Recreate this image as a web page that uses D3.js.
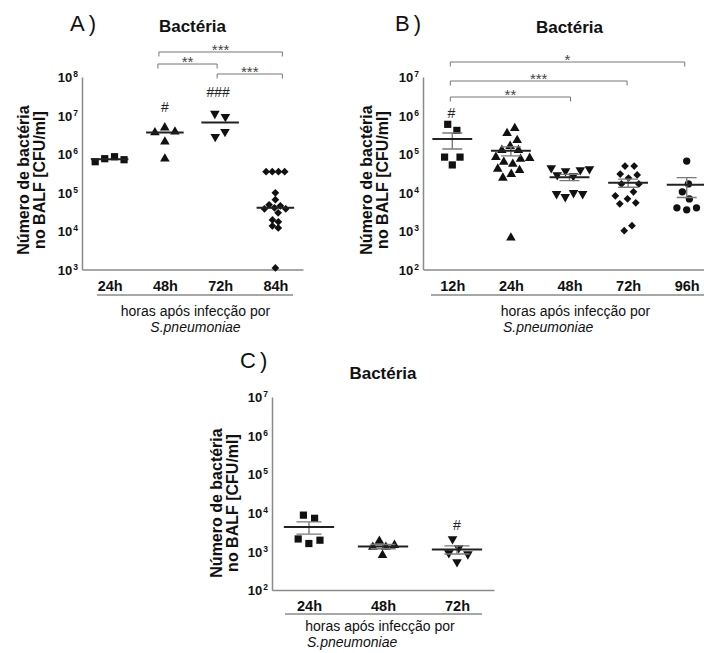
<!DOCTYPE html>
<html>
<head>
<meta charset="utf-8">
<script src="https://cdn.jsdelivr.net/npm/d3@7"></script>
<style>
  body { margin: 0; background: #fff; }
  text { font-family: "Liberation Sans", Arial, sans-serif; }
</style>
</head>
<body>
<svg id="chart" width="704" height="653"></svg>
<script>
// ---- data (CFU/ml per animal) ----
const hoursA = ["24h", "48h", "72h", "84h"];
const hoursB = ["12h", "24h", "48h", "72h", "96h"];
const hoursC = ["24h", "48h", "72h"];

const cfuA = [
  [7.55e5, 6.3e5, 8.5e5, 7.1e5],
  [3.6e6, 4.84e6, 3.8e6, 2.09e6, 7.5e5],
  [1.12e7, 9.3e6, 2.8e6, 3.8e6],
  [3.47e5, 3.47e5, 3.47e5, 3.47e5, 9.8e4, 6.5e4, 4.8e4, 3.76e4, 4.5e4, 2.96e4,
   4.0e4, 3.76e4, 1.94e4, 1.35e4, 1.2e4, 1.73e4, 1.1e3]
];
const cfuB = [
  [5.9e5, 4.1e5, 8.3e4, 8.3e4, 5.2e4],
  [4.67e5, 3.46e5, 2.28e5, 1.26e5, 1.26e5, 1.6e5, 7.4e4, 8.3e4, 7.8e4, 5.5e4,
   6.2e4, 4.1e4, 3.0e4, 3.8e4, 2.4e4, 6.7e2],
  [3.84e4, 4.32e4, 4.07e4, 3.61e4, 2.85e4, 2.69e4, 9.2e3, 7.7e3, 9.8e3, 9.2e3],
  [4.86e4, 4.86e4, 2.85e4, 3.02e4, 2.38e4, 1.67e4, 1.67e4, 1.04e4, 8.2e3, 5.4e3,
   5.07e3, 6.84e3, 1.02e3, 1.37e3],
  [6.56e4, 1.67e4, 1.04e4, 6.8e3, 4.0e3, 3.55e3, 4.0e3]
];
const cfuC = [
  [8.7e3, 7.2e3, 2.1e3, 1.6e3, 1.95e3],
  [1.3e3, 1.85e3, 1.45e3, 1.3e3, 8.0e2],
  [2.1e3, 1.22e3, 9.1e2, 8.5e2, 5.3e2]
];

const shapesA = ["square", "triangle", "triangleDown", "diamond"];
const shapesB = ["square", "triangle", "triangleDown", "diamond", "circle"];
const shapesC = ["square", "triangle", "triangleDown"];

const signifA = [["48h", "84h", "***"], ["48h", "72h", "**"], ["72h", "84h", "***"]];
const signifB = [["12h", "96h", "*"], ["12h", "72h", "***"], ["12h", "48h", "**"]];
const hashA = [["48h", "#"], ["72h", "###"]];
const hashB = [["12h", "#"]];
const hashC = [["72h", "#"]];

// ---- layout ----
const axisGrey = "#8a8a8a";
const svg = d3.select("#chart");
svg.append("rect").attr("width", 704).attr("height", 653).attr("fill", "#fff");

const panels = [
  { tag: "A)", tagX: 70, tagY: 31, cats: hoursA, cfu: cfuA, shapes: shapesA, center: "median",
    left: 82, right: 303, top: 77, bottom: 269.5, exps: [3, 8], titleY: 32,
    labelX: 29, labelY: 180, spread: [5, 5.5, 5.5, 3.1],
    brackets: signifA, bracketPos: [{y: 52, d0: -6, d1: 7}, {y: 64, d0: -7, d1: -3}, {y: 74, d0: -3, d1: 7}],
    hashes: hashA, hashPos: [{y: 112, dx: 0}, {y: 97, dx: -2}],
    rule: [97, 293, 295], horasX: 195.5, horasY: 316, spX: 195.5, spAnchor: "middle" },
  { tag: "B)", tagX: 395, tagY: 31, cats: hoursB, cfu: cfuB, shapes: shapesB, center: "mean",
    left: 423, right: 716, top: 77, bottom: 269.5, exps: [2, 7], titleY: 33,
    labelX: 372, labelY: 180, spread: [5.5, 4.6, 4.6, 4.6, 5],
    brackets: signifB, bracketPos: [{y: 62, d0: -2, d1: -2}, {y: 81, d0: -2, d1: -1}, {y: 97, d0: -2, d1: 1}],
    hashes: hashB, hashPos: [{y: 118, dx: -1}],
    rule: [431, 716, 295], horasX: 575.5, horasY: 316, spX: 503, spAnchor: "start" },
  { tag: "C)", tagX: 240, tagY: 368, cats: hoursC, cfu: cfuC, shapes: shapesC, center: "mean",
    left: 272, right: 494, top: 397, bottom: 590, exps: [2, 7], titleY: 379,
    labelX: 222, labelY: 503, spread: [5.8, 4.4, 5.5],
    brackets: [], bracketPos: [],
    hashes: hashC, hashPos: [{y: 530, dx: 0}],
    rule: [285, 482, 614], horasX: 380, horasY: 631, spX: 307, spAnchor: "start" }
];

const symbolOf = {
  square: { type: d3.symbolSquare, size: 52, rot: 0 },
  triangle: { type: d3.symbolTriangle, size: 40, rot: 0 },
  triangleDown: { type: d3.symbolTriangle, size: 40, rot: 180 },
  diamond: { type: d3.symbolSquare, size: 30, rot: 45 },
  circle: { type: d3.symbolCircle, size: 42, rot: 0 }
};

// spread points of one group sideways so they don't overlap (beeswarm)
function swarm(vals, cx, y, r) {
  const nodes = vals.map(v => ({ v: v, x: cx, y: y(v), fy: y(v) }));
  const sim = d3.forceSimulation(nodes)
    .force("x", d3.forceX(cx).strength(0.2))
    .force("collide", d3.forceCollide(r))
    .stop();
  for (let i = 0; i < 300; i++) sim.tick();
  return nodes;
}

function drawPanel(p) {
  const g = svg.append("g");
  const x = d3.scalePoint().domain(p.cats).range([p.left, p.right]).padding(0.5);
  const y = d3.scaleLog().domain([10 ** p.exps[0], 10 ** p.exps[1]]).range([p.bottom, p.top]);
  const step = x.step();

  // y axis with 10^n labels
  const yAxis = d3.axisLeft(y)
    .tickValues(d3.range(p.exps[0], p.exps[1] + 1).map(e => 10 ** e))
    .tickSize(0).tickSizeOuter(0).tickPadding(4)
    .tickFormat(() => "");
  const gy = g.append("g").attr("transform", `translate(${p.left},0)`).call(yAxis);
  gy.select(".domain").attr("stroke", axisGrey).attr("stroke-width", 1.5);
  gy.selectAll(".tick text").each(function(d) {
    const t = d3.select(this)
      .attr("font-size", 13).attr("font-weight", "bold").attr("fill", "#111").attr("dy", "0.36em");
    t.append("tspan").text("10");
    t.append("tspan").attr("font-size", 8.5).attr("dx", 1).attr("dy", -5)
      .text(Math.round(Math.log10(d)));
  });

  // x axis
  const xAxis = d3.axisBottom(x).tickSize(0).tickSizeOuter(0).tickPadding(11);
  const gx = g.append("g").attr("transform", `translate(0,${p.bottom})`).call(xAxis);
  gx.select(".domain").attr("stroke", axisGrey).attr("stroke-width", 1.5);
  gx.selectAll(".tick text")
    .attr("font-size", 14.5).attr("font-weight", "bold").attr("fill", "#111");

  // points + centre line (+ SEM)
  p.cats.forEach((c, i) => {
    const vals = p.cfu[i];
    const cx = x(c);
    const sym = symbolOf[p.shapes[i]];
    const nodes = swarm(vals, cx, y, p.spread[i]);
    g.append("g").selectAll("path").data(nodes).join("path")
      .attr("transform", d => `translate(${d.x},${d.y}) rotate(${sym.rot})`)
      .attr("d", d3.symbol().type(sym.type).size(sym.size))
      .attr("fill", "#111");

    let mid;
    if (p.center === "median") {
      mid = d3.median(vals);
    } else {
      mid = d3.mean(vals);
      const sem = d3.deviation(vals) / Math.sqrt(vals.length);
      const w = step * 0.17;
      g.append("path")
        .attr("d", `M${cx - w},${y(mid + sem)}H${cx + w}M${cx},${y(mid + sem)}V${y(mid - sem)}` +
                   `M${cx - w},${y(mid - sem)}H${cx + w}`)
        .attr("fill", "none").attr("stroke", "#7a7a7a").attr("stroke-width", 1.4);
    }
    g.append("line")
      .attr("x1", cx - step * 0.34).attr("x2", cx + step * 0.34)
      .attr("y1", y(mid)).attr("y2", y(mid))
      .attr("stroke", "#222").attr("stroke-width", 2);
  });

  // significance brackets
  p.brackets.forEach(([a, b, label], k) => {
    const L = p.bracketPos[k];
    const xa = x(a) + L.d0, xb = x(b) + L.d1;
    g.append("path")
      .attr("d", `M${xa},${L.y + 4.5}V${L.y}H${xb}V${L.y + 4.5}`)
      .attr("fill", "none").attr("stroke", "#777").attr("stroke-width", 1);
    g.append("text")
      .attr("x", (xa + xb) / 2).attr("y", L.y + 2.7)
      .attr("text-anchor", "middle").attr("font-size", 15).attr("fill", "#444")
      .text(label);
  });

  // # marks
  p.hashes.forEach(([c, label], k) => {
    g.append("text")
      .attr("x", x(c) + p.hashPos[k].dx).attr("y", p.hashPos[k].y)
      .attr("text-anchor", "middle").attr("font-size", 14).attr("fill", "#222")
      .text(label);
  });

  // titles
  g.append("text").attr("x", p.tagX).attr("y", p.tagY)
    .attr("font-size", 22).attr("letter-spacing", 4).attr("fill", "#111").text(p.tag);
  g.append("text").attr("x", (p.left + Math.min(p.right, 716)) / 2).attr("y", p.titleY)
    .attr("text-anchor", "middle").attr("font-size", 17).attr("font-weight", "bold")
    .attr("fill", "#111").text("Bactéria");

  const lab = g.append("text")
    .attr("transform", `translate(${p.labelX},${p.labelY}) rotate(-90)`)
    .attr("text-anchor", "middle").attr("font-size", 16).attr("font-weight", "bold").attr("fill", "#111");
  lab.append("tspan").attr("x", 0).attr("y", 0).text("Número de bactéria");
  lab.append("tspan").attr("x", 0).attr("y", 16).text("no BALF [CFU/ml]");

  // x title block
  g.append("line")
    .attr("x1", p.rule[0]).attr("x2", p.rule[1]).attr("y1", p.rule[2]).attr("y2", p.rule[2])
    .attr("stroke", axisGrey).attr("stroke-width", 1.5);
  g.append("text").attr("x", p.horasX).attr("y", p.horasY)
    .attr("text-anchor", "middle").attr("font-size", 14).attr("fill", "#111")
    .text("horas após infecção por");
  g.append("text").attr("x", p.spX).attr("y", p.horasY + 16)
    .attr("text-anchor", p.spAnchor).attr("font-size", 14).attr("font-style", "italic")
    .attr("fill", "#111").text("S.pneumoniae");
}

panels.forEach(drawPanel);
</script>
</body>
</html>
